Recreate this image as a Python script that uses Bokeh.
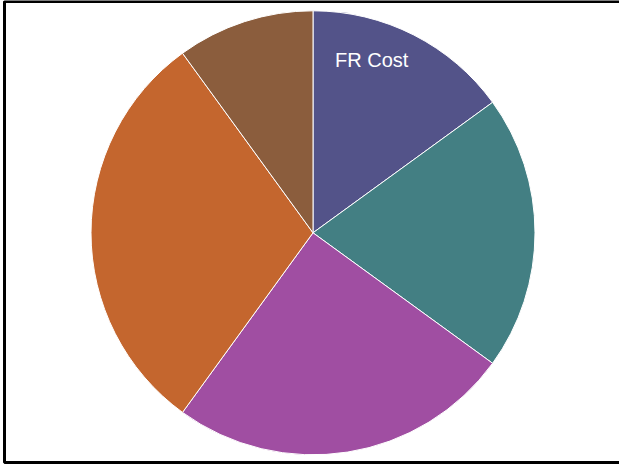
import math
from bokeh.plotting import figure
from bokeh.models import Range1d, ColumnDataSource
from bokeh.core.properties import value
from bokeh.embed import file_html
from bokeh.resources import INLINE

# Data
categories = ["FR Cost", "", "", "", ""]
values = [15, 20, 25, 30, 10]
colors = ["#535389", "#437F83", "#A04EA2", "#C4662E", "#8B5D3D"]

W, H = 619, 465
# pie geometry in screen px (relative to figure, y up)
cx, cy = 312.5, H - 232.3
R = 222

total = float(sum(values))
starts, ends, lx, ly = [], [], [], []
cum = 0.0
for v in values:
    a0 = math.pi / 2 - 2 * math.pi * cum / total
    a1 = math.pi / 2 - 2 * math.pi * (cum + v) / total
    starts.append(a0)
    ends.append(a1)
    la = a0 + (a1 - a0) * 0.348
    lx.append(cx + 0.821 * R * math.cos(la))
    ly.append(cy + 0.821 * R * math.sin(la))
    cum += v

src = ColumnDataSource(dict(start=starts, end=ends, color=colors,
                            label=categories, lx=lx, ly=ly))

p = figure(width=W, height=H, output_backend="svg", toolbar_location=None,
           x_range=Range1d(0, W), y_range=Range1d(0, H), min_border=0)
p.axis.visible = False
p.grid.visible = False
p.outline_line_color = None
p.background_fill_color = "white"
p.border_fill_color = "white"

# container frame (left, top, bottom edges; right edge lies outside the view)
p.quad(left=4, right=W + 10, top=H - 1, bottom=H - 462,
       fill_color=None, line_color="black", line_width=3)

p.wedge(x=cx, y=cy, radius=R, start_angle="start", end_angle="end",
        direction="clock", fill_color="color", line_color="white",
        line_width=1, source=src)

p.text(x="lx", y="ly", text="label", source=src, text_color="white",
       text_font=value("Liberation Sans"), text_font_size="20px",
       text_align="center", text_baseline="alphabetic")

open("out.html", "w").write(file_html(p, INLINE))
